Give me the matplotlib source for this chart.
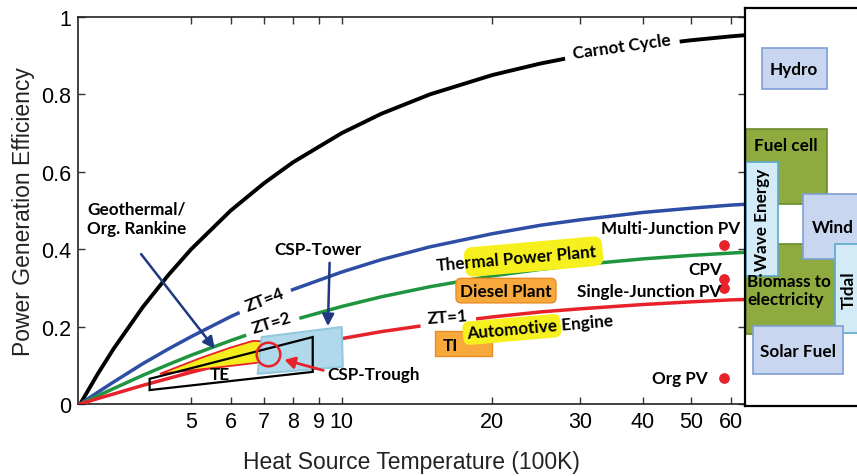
import numpy as np
import matplotlib.pyplot as plt
from matplotlib.patches import Polygon, Rectangle
from matplotlib.ticker import NullLocator

plt.rcParams['font.family'] = ['Liberation Sans', 'DejaVu Sans']

# heat source temperature (100K) and efficiencies
temp = [3, 3.25, 3.5, 4, 4.5, 5, 6, 7, 8, 10, 12, 15, 20, 25, 30, 40, 50, 60, 64]
carnot = [0, 0.077, 0.143, 0.25, 0.333, 0.40, 0.50, 0.571, 0.625, 0.70, 0.75,
          0.80, 0.85, 0.88, 0.90, 0.925, 0.94, 0.95, 0.953]
zt4 = [0, 0.030, 0.057, 0.104, 0.142, 0.174, 0.226, 0.265, 0.296, 0.341, 0.373,
       0.406, 0.440, 0.462, 0.476, 0.495, 0.506, 0.514, 0.516]
zt2 = [0, 0.021, 0.040, 0.074, 0.102, 0.126, 0.164, 0.194, 0.217, 0.252, 0.277,
       0.303, 0.331, 0.348, 0.360, 0.375, 0.384, 0.390, 0.392]
zt1 = [0, 0.014, 0.026, 0.048, 0.066, 0.082, 0.108, 0.128, 0.145, 0.169, 0.187,
       0.205, 0.225, 0.238, 0.246, 0.257, 0.264, 0.269, 0.270]

# photovoltaic points
pv_names = ["Multi-Junction PV", "CPV", "Single-Junction PV", "Org PV"]
pv_temp = [58, 58, 58.2, 58.2]
pv_eff = [0.411, 0.323, 0.300, 0.067]

xticks = [5, 6, 7, 8, 9, 10, 20, 30, 40, 50, 60]
yticks = [0, 0.2, 0.4, 0.6, 0.8, 1]
ylabels = ['0', '0.2', '0.4', '0.6', '0.8', '1']

blue = '#2e4ea5'
green = '#1f9540'
red = '#e8222a'
navy = '#1f3a80'
ann = dict(family=['Lato', 'DejaVu Sans'], fontweight='bold', fontsize=12.3)

fig = plt.figure(figsize=(8.57, 4.77), dpi=100)
ax = fig.add_axes([78 / 857, 72 / 477, 667 / 857, 387 / 477])
ax.set_xscale('log')
ax.set_xlim(2.97, 64)
ax.set_ylim(0, 1)

ax.plot(temp, carnot, color='black', lw=2.8, zorder=3)
ax.plot(temp, zt4, color=blue, lw=2.5, zorder=3)
ax.plot(temp, zt2, color=green, lw=2.5, zorder=3)
ax.plot(temp, zt1, color=red, lw=2.5, zorder=3)

# curve labels (white box cuts the line)
wbox = dict(boxstyle='square,pad=0.45', fc='white', ec='none')
ax.text(36.3, 0.925, 'Carnot Cycle', rotation=8, ha='center', va='center',
        bbox=dict(boxstyle='square,pad=0.5', fc='white', ec='none'), zorder=4, **ann)
ax.text(7.0, 0.272, 'ZT=4', rotation=21, ha='center', va='center', bbox=wbox, zorder=4, **ann)
ax.text(7.24, 0.21, 'ZT=2', rotation=17, ha='center', va='center', bbox=wbox, zorder=4, **ann)
ax.text(16.3, 0.227, 'ZT=1', rotation=4, ha='center', va='center', bbox=wbox, zorder=4, **ann)

# thermoelectric / CSP region sketches
te_shape = [(4.13, 0.065), (4.13, 0.036), (8.75, 0.083), (8.75, 0.173)]
te_lens = [(4.33, 0.078), (5.2, 0.118), (5.97, 0.145), (6.64, 0.163), (7.11, 0.162),
           (7.3, 0.145), (6.92, 0.108), (5.7, 0.095)]
csp_box = [(6.79, 0.078), (6.92, 0.173), (10.0, 0.199), (10.05, 0.096)]
ax.add_patch(Polygon(te_lens, closed=True, fc='#f4ec1c', ec=red, lw=1.3, zorder=5))
ax.add_patch(Polygon(csp_box, closed=True, fc='#b0d9eb', ec='#93c8de', lw=1.5,
                     joinstyle='round', zorder=6))
ax.add_patch(Polygon(te_shape, closed=True, fc='none', ec='black', lw=1.6, zorder=7))
ax.plot([7.11], [0.129], marker='o', ms=17, mfc='none', mec=red, mew=1.8, zorder=8)
ax.text(5.7, 0.077, 'TE', ha='center', va='center', zorder=8, **ann)

ax.annotate('', xy=(7.59, 0.116), xytext=(9.3, 0.085), zorder=9,
            arrowprops=dict(arrowstyle='-|>,head_length=0.6,head_width=0.35', color=red, lw=2))
ax.text(9.38, 0.078, 'CSP-Trough', ha='left', va='center', zorder=8, **ann)

ax.text(3.1, 0.525, 'Geothermal/\nOrg. Rankine', ha='left', va='top', linespacing=1.25,
        zorder=8, **ann)
ax.annotate('', xy=(5.62, 0.137), xytext=(3.94, 0.393), zorder=9,
            arrowprops=dict(arrowstyle='-|>,head_length=0.7,head_width=0.35', color=navy, lw=1.8))
ax.text(8.95, 0.40, 'CSP-Tower', ha='center', va='center', zorder=8, **ann)
ax.annotate('', xy=(9.38, 0.194), xytext=(9.46, 0.372), zorder=9,
            arrowprops=dict(arrowstyle='-|>,head_length=0.7,head_width=0.35', color=navy, lw=1.8))

# engines / plants
ax.text(18.2, 0.354, 'mal Power Plant', rotation=5, rotation_mode='anchor', ha='left',
        va='baseline', zorder=8,
        bbox=dict(boxstyle='round,pad=0.4,rounding_size=0.5', fc='#f6f01e', ec='none'), **ann)
ax.text(18.2, 0.354, 'Ther', rotation=5, rotation_mode='anchor', ha='right',
        va='baseline', zorder=9, **ann)
ax.text(21.3, 0.293, 'Diesel Plant', ha='center', va='center', zorder=8,
        bbox=dict(boxstyle='round,pad=0.25,rounding_size=0.3', fc='#f7a93c', ec='#e98c25'), **ann)
ax.add_patch(Rectangle((15.35, 0.124), 19.95 - 15.35, 0.189 - 0.124, fc='#f7a93c',
                       ec='#e98c25', lw=1, zorder=6))
ax.text(15.9, 0.152, 'TI', ha='left', va='center', zorder=8, **ann)
ax.text(27.0, 0.19, 'Automotive', rotation=5, rotation_mode='anchor', ha='right',
        va='baseline', zorder=8,
        bbox=dict(boxstyle='round,pad=0.22,rounding_size=0.4', fc='#f6f01e', ec='none'), **ann)
ax.text(27.0, 0.19, ' Engine', rotation=5, rotation_mode='anchor', ha='left',
        va='baseline', zorder=9, **ann)

# PV points
ax.scatter(pv_temp, pv_eff, s=45, color=red, zorder=8, clip_on=False)
ax.text(62.5, 0.455, pv_names[0], ha='right', va='center', zorder=8, **ann)
ax.text(57.5, 0.349, pv_names[1], ha='right', va='center', zorder=8, **ann)
ax.text(57.5, 0.292, pv_names[2], ha='right', va='center', zorder=8, **ann)
ax.text(54.0, 0.067, pv_names[3], ha='right', va='center', zorder=8, **ann)

ax.set_xticks(xticks)
ax.set_xticklabels([str(t) for t in xticks])
ax.xaxis.set_minor_locator(NullLocator())
ax.set_yticks(yticks)
ax.set_yticklabels(ylabels)
ax.tick_params(direction='in', top=True, right=True, length=5, width=1,
               labelsize=15.5, pad=5, color='#333333')
for s in ax.spines.values():
    s.set_linewidth(1.2)
    s.set_color('#222222')
ax.set_xlabel('Heat Source Temperature (100K)', fontsize=16.5, labelpad=13, color='#222222')
ax.set_ylabel('Power Generation Efficiency', fontsize=16.5, labelpad=4, color='#222222')

# right-hand panel of other technologies (drawn in pixel layout units)
panel = fig.add_axes([745 / 857, 70 / 477, 140 / 857, 398 / 477])
panel.set_xlim(745, 885)
panel.set_ylim(407, 9)
panel.set_xticks([])
panel.set_yticks([])
panel.set_facecolor('white')
for s in panel.spines.values():
    s.set_linewidth(1.6)
    s.set_color('black')

styles = {
    'blue': dict(fc='#c8d6ef', ec='#7f9fd4'),
    'green': dict(fc='#8fab3f', ec='#6a8a2a'),
    'cyan': dict(fc='#d3eaf7', ec='#5aaacb'),
}
boxes = [
    ('Hydro', 762, 49, 827, 90, 'blue', 0, (794, 70), 'center'),
    ('Fuel cell', 746, 130, 827, 205, 'green', 0, (786, 146), 'center'),
    ('Biomass to\nelectricity', 746, 245, 840, 335, 'green', 0, (747, 291), 'left'),
    ('Wave Energy', 746, 163, 778, 277, 'cyan', 90, (762, 220), 'center'),
    ('Wind', 803, 195, 880, 260, 'blue', 0, (833, 228), 'center'),
    ('Tidal', 835, 245, 880, 334, 'cyan', 90, (849, 290), 'center'),
    ('Solar Fuel', 753, 327, 843, 375, 'blue', 0, (798, 352), 'center'),
]
for name, x0, y0, x1, y1, kind, rot, (tx, ty), ha in boxes:
    panel.add_patch(Rectangle((x0, y0), x1 - x0, y1 - y0, lw=1.2, **styles[kind]))
    panel.text(tx, ty, name, rotation=rot, ha=ha, va='center', linespacing=1.2, **ann)

fig.savefig('out.png', dpi=100)
